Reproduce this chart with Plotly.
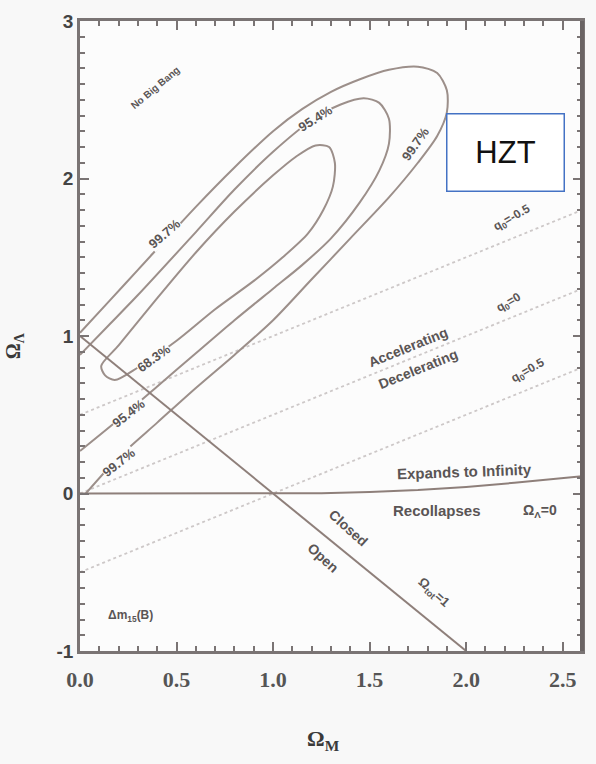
import plotly.graph_objects as go

# ---------------- data ----------------
# confidence contours in (Omega_M, Omega_Lambda)
c997_x = [0.0, 0.15, 0.3, 0.6, 0.8, 1.0, 1.15, 1.3, 1.45, 1.6, 1.75, 1.85, 1.9, 1.9, 1.85, 1.75, 1.6, 1.4, 1.2, 1.0, 0.8, 0.6, 0.4, 0.2, 0.03]
c997_y = [1.02, 1.22, 1.42, 1.82, 2.07, 2.30, 2.44, 2.55, 2.63, 2.69, 2.71, 2.67, 2.56, 2.42, 2.27, 2.10, 1.88, 1.62, 1.36, 1.10, 0.88, 0.67, 0.45, 0.23, 0.0]

c954_x = [0.0, 0.15, 0.3, 0.6, 0.8, 1.0, 1.2, 1.35, 1.47, 1.55, 1.6, 1.6, 1.55, 1.45, 1.3, 1.15, 1.0, 0.8, 0.6, 0.4, 0.2, 0.0]
c954_y = [0.88, 1.07, 1.26, 1.66, 1.93, 2.17, 2.37, 2.47, 2.51, 2.48, 2.38, 2.22, 2.05, 1.85, 1.62, 1.45, 1.30, 1.10, 0.89, 0.68, 0.47, 0.27]

c683_x = [0.18, 0.13, 0.11, 0.2, 0.4, 0.6, 0.8, 1.0, 1.12, 1.22, 1.29, 1.32, 1.31, 1.26, 1.18, 1.05, 0.9, 0.7, 0.5, 0.3, 0.18]
c683_y = [0.72, 0.75, 0.81, 0.94, 1.24, 1.53, 1.79, 2.02, 2.14, 2.21, 2.20, 2.10, 1.95, 1.80, 1.65, 1.50, 1.35, 1.17, 0.97, 0.80, 0.72]

# flat universe line (Omega_tot = 1)
flat_x = [0.0, 2.0]
flat_y = [1.0, -1.0]

# expands / recollapses boundary
coll_x = [0.0, 1.0, 1.25, 1.5, 1.75, 2.0, 2.25, 2.6]
coll_y = [0.0, 0.0, 0.002, 0.009, 0.022, 0.042, 0.068, 0.11]

# deceleration-parameter lines (endpoints)
q_names = ["q0=-0.5", "q0=0", "q0=0.5"]
q_x = [[0.0, 2.6], [0.0, 2.6], [0.0, 2.6]]
q_y = [[0.5, 1.8], [0.0, 1.3], [-0.5, 0.8]]

x_tickvals = [0.0, 0.5, 1.0, 1.5, 2.0, 2.5]
x_ticktext = ["0.0", "0.5", "1.0", "1.5", "2.0", "2.5"]
y_tickvals = [-1, 0, 1, 2, 3]
y_ticktext = ["-1", "0", "1", "2", "3"]

# ---------------- figure ----------------
LINE = "#9c8f8a"
TXT = "#5a5555"
BG = "#fcfcfc"

fig = go.Figure()

for qx, qy in zip(q_x, q_y):
    fig.add_trace(go.Scatter(x=qx, y=qy, mode="lines",
                             line=dict(color="#cdc8c8", width=1.8, dash="dot"),
                             hoverinfo="skip", showlegend=False))

for cx, cy in [(c997_x, c997_y), (c954_x, c954_y), (c683_x, c683_y)]:
    fig.add_trace(go.Scatter(x=cx, y=cy, mode="lines",
                             line=dict(color=LINE, width=2, shape="spline", smoothing=0.8),
                             hoverinfo="skip", showlegend=False))

fig.add_trace(go.Scatter(x=flat_x, y=flat_y, mode="lines",
                         line=dict(color="#8e7f7a", width=2), showlegend=False))
fig.add_trace(go.Scatter(x=coll_x, y=coll_y, mode="lines",
                         line=dict(color="#8e7f7a", width=2), showlegend=False))


def lab(x, y, text, angle=0, size=10, bg=True, color=TXT):
    fig.add_annotation(x=x, y=y, text=text, showarrow=False, textangle=angle,
                       font=dict(family="Liberation Sans", size=size, color=color, weight="bold"),
                       bgcolor=BG if bg else "rgba(0,0,0,0)", borderpad=0)


lab(0.39, 2.58, "No Big Bang", -40, 10)
lab(0.44, 1.65, "99.7%", -41, 13)
lab(1.74, 2.22, "99.7%", -55, 13)
lab(0.20, 0.20, "99.7%", -38, 13)
lab(1.22, 2.38, "95.4%", -32, 13)
lab(0.25, 0.51, "95.4%", -38, 13)
lab(0.38, 0.86, "68.3%", -36, 13)
lab(2.24, 1.75, "q<sub>0</sub>=-0.5", -30, 12, bg=False)
lab(2.22, 1.21, "q<sub>0</sub>=0", -30, 12, bg=False)
lab(2.32, 0.78, "q<sub>0</sub>=0.5", -30, 12, bg=False)
lab(1.70, 0.93, "Accelerating", -22, 14, bg=False)
lab(1.75, 0.79, "Decelerating", -22, 14, bg=False)
lab(1.99, 0.14, "Expands to Infinity", -2, 15, bg=False)
lab(1.85, -0.11, "Recollapses", 0, 15, bg=False)
lab(2.38, -0.11, "Ω<sub>Λ</sub>=0", 0, 14, bg=False)
lab(1.39, -0.22, "Closed", 42, 14, bg=False)
lab(1.26, -0.41, "Open", 42, 14, bg=False)
lab(1.83, -0.63, "Ω<sub>tot</sub>=1", 42, 13, bg=False)
lab(0.26, -0.78, "Δm<sub>15</sub>(B)", 0, 12, bg=False)

# HZT box
fig.add_annotation(xref="paper", yref="paper", x=0.848, y=0.791,
                   xanchor="center", yanchor="middle",
                   text="HZT", showarrow=False,
                   font=dict(family="Liberation Sans", size=31, color="#111111"),
                   bgcolor="white", bordercolor="#4472c4", borderwidth=1.5,
                   width=114, height=74)

# heavier right frame edge as in the scan
fig.add_shape(type="line", xref="paper", yref="paper", x0=1, x1=1, y0=0, y1=1,
              line=dict(color="#6a6464", width=4))

# axis titles
fig.add_annotation(xref="paper", yref="paper", x=0.485, y=-0.141, yanchor="middle",
                   text="<b>Ω<sub>M</sub></b>", showarrow=False,
                   font=dict(family="Liberation Serif", size=22, color="#3a3a3a"))
fig.add_annotation(xref="paper", yref="paper", x=-0.131, y=0.484,
                   xanchor="center", yanchor="middle",
                   text="<b>Ω<sub>Λ</sub></b>", showarrow=False, textangle=-90,
                   font=dict(family="Liberation Serif", size=20, color="#3a3a3a"))

axis_common = dict(showgrid=False, zeroline=False, showline=True, linecolor="#7a7474",
                   linewidth=2.5, mirror="allticks", ticks="inside", ticklen=9,
                   tickwidth=2, tickcolor="#7a7474")

fig.update_xaxes(range=[0, 2.6], tickvals=x_tickvals, ticktext=x_ticktext,
                 tickfont=dict(family="Liberation Serif", size=22, color="#555", weight="bold"),
                 ticklabelstandoff=7,
                 minor=dict(dtick=0.1, ticks="inside", ticklen=5, tickcolor="#7a7474", tickwidth=1.5),
                 **axis_common)
fig.update_yaxes(range=[-1, 3], tickvals=y_tickvals, ticktext=y_ticktext,
                 tickfont=dict(family="Liberation Sans", size=19, color="#444", weight="bold"),
                 minor=dict(dtick=0.1, ticks="inside", ticklen=5, tickcolor="#7a7474", tickwidth=1.5),
                 **axis_common)

fig.update_layout(width=596, height=764, margin=dict(l=80, r=11, t=19, b=113),
                  paper_bgcolor="#f8f8f8", plot_bgcolor=BG, showlegend=False)

fig.write_html("out.html")
